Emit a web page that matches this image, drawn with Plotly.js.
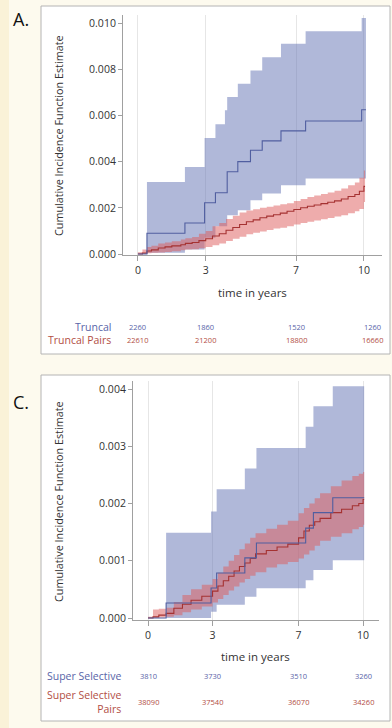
<!DOCTYPE html>
<html>
<head>
<meta charset="utf-8">
<script src="https://cdn.plot.ly/plotly-3.0.1.min.js"></script>
<style>
html,body{margin:0;padding:0;background:#fdfaee;}
#chart{width:392px;height:728px;}
</style>
</head>
<body>
<div id="chart"></div>
<script>
// ---------- Panel A: Truncal ----------
var tA_truncal   = [0, 0.4, 2.08, 2.95, 3.43, 3.85, 3.95, 4.42, 4.98, 5.5, 6.33, 7.42, 9.9, 10.09];
var estA_truncal = [0, 0.0009, 0.00134, 0.00222, 0.00265, 0.00265, 0.00356, 0.0040, 0.00449, 0.0049, 0.00533, 0.00576, 0.00625, 0.00625];
var loA_truncal  = [0, 0.00005, 0.0002, 0.0007, 0.0012, 0.0012, 0.00168, 0.0019, 0.00233, 0.00262, 0.00298, 0.00327, 0.00327, 0.00327];
var upA_truncal  = [0, 0.00312, 0.00377, 0.00502, 0.00562, 0.00622, 0.0068, 0.00737, 0.00795, 0.00852, 0.0091, 0.00965, 0.01022, 0.01022];

// ---------- Panel A: Truncal Pairs ----------
var tA_pairs   = [0, 0.2, 0.4, 0.6, 0.9, 1.2, 1.5, 1.9, 2.1, 2.4, 2.7, 3.0, 3.3, 3.6, 3.9, 4.2, 4.5, 4.8, 5.1, 5.4, 5.7, 6.0, 6.3, 6.6, 6.9, 7.2, 7.5, 7.8, 8.1, 8.4, 8.7, 9.0, 9.3, 9.6, 9.8, 10.0, 10.05];
var estA_pairs = [0, 0.00004, 0.00013, 0.00018, 0.00026, 0.00031, 0.00035, 0.0004, 0.00046, 0.0005, 0.00058, 0.00066, 0.00078, 0.00088, 0.00103, 0.00115, 0.00128, 0.0014, 0.00148, 0.00157, 0.00164, 0.0017, 0.00177, 0.00185, 0.00193, 0.002, 0.00207, 0.00212, 0.00218, 0.00224, 0.0023, 0.00238, 0.00249, 0.00258, 0.00272, 0.00293, 0.00293];
var loA_pairs  = [0, 0.00001, 0.00003, 0.00005, 0.00007, 0.00009, 0.00012, 0.00016, 0.00019, 0.00021, 0.00025, 0.0003, 0.00038, 0.00046, 0.00056, 0.00066, 0.00075, 0.00086, 0.00092, 0.00098, 0.00104, 0.0011, 0.00114, 0.0012, 0.00128, 0.00134, 0.0014, 0.00145, 0.0015, 0.00156, 0.00162, 0.00168, 0.00176, 0.00185, 0.00195, 0.00225, 0.00225];
var upA_pairs  = [0.00008, 0.0002, 0.0003, 0.00036, 0.00045, 0.0005, 0.00055, 0.00063, 0.00068, 0.00074, 0.00088, 0.001, 0.0012, 0.00134, 0.00152, 0.00166, 0.0018, 0.00188, 0.00194, 0.002, 0.00205, 0.0021, 0.00215, 0.0022, 0.0023, 0.00238, 0.00247, 0.00253, 0.0026, 0.00266, 0.00274, 0.00284, 0.00298, 0.0031, 0.0033, 0.00362, 0.00362];

// ---------- Panel C: Super Selective ----------
var tC_ss   = [0, 0.84, 2.93, 3.19, 4.5, 5.04, 7.33, 7.69, 8.59, 10.05];
var estC_ss = [0, 0.000262, 0.000525, 0.000787, 0.00105, 0.00131, 0.00157, 0.00184, 0.0021, 0.0021];
var loC_ss  = [0, 0, 0.00011, 0.00023, 0.00037, 0.00052, 0.00066, 0.00084, 0.00101, 0.00101];
var upC_ss  = [0, 0.00149, 0.00186, 0.00225, 0.00261, 0.00297, 0.00334, 0.0037, 0.00405, 0.00405];

// ---------- Panel C: Super Selective Pairs ----------
var tC_ssp   = [0, 0.23, 0.5, 0.84, 1.2, 1.6, 2.0, 2.5, 3.0, 3.25, 3.5, 3.75, 4.0, 4.25, 4.5, 4.75, 5.0, 5.5, 6.0, 6.5, 7.0, 7.25, 7.5, 7.75, 8.0, 8.5, 9.0, 9.5, 9.8, 10.0, 10.05];
var estC_ssp = [0, 0.00002, 0.00005, 0.00008, 0.00017, 0.00024, 0.00031, 0.00038, 0.00047, 0.00056, 0.00065, 0.00073, 0.00082, 0.0009, 0.00096, 0.00104, 0.00112, 0.00118, 0.00124, 0.00129, 0.0014, 0.00152, 0.00162, 0.00168, 0.00174, 0.00184, 0.0019, 0.00196, 0.002, 0.00207, 0.00207];
var loC_ssp  = [0, 0, 0.00001, 0.00002, 0.00005, 0.0001, 0.00015, 0.0002, 0.00027, 0.00033, 0.0004, 0.00048, 0.00055, 0.00062, 0.00068, 0.00074, 0.0008, 0.00088, 0.00094, 0.00098, 0.00104, 0.00111, 0.00118, 0.00126, 0.00135, 0.00142, 0.00148, 0.00155, 0.00159, 0.00163, 0.00163];
var upC_ssp  = [0.00002, 0.00015, 0.00016, 0.00018, 0.00028, 0.0004, 0.0005, 0.00058, 0.00068, 0.00079, 0.0009, 0.001, 0.0011, 0.0012, 0.0013, 0.0014, 0.00148, 0.00156, 0.00163, 0.0017, 0.00183, 0.00192, 0.002, 0.00209, 0.00218, 0.0023, 0.0024, 0.00248, 0.00252, 0.00255, 0.00255];

// ---------- Risk tables ----------
var riskTimes = [0, 3, 7, 10];
var riskA_truncal = [2260, 1860, 1520, 1260];
var riskA_pairs   = [22610, 21200, 18800, 16660];
var riskC_ss      = [3810, 3730, 3510, 3260];
var riskC_ssp     = [38090, 37540, 36070, 34260];

// ---------- styling ----------
var W = 392, H = 728;
function px(x){ return x / W; }
function py(y){ return 1 - y / H; }
var FONT = 'Open Sans, Noto Sans, sans-serif';
var blueFill = 'rgba(104,118,182,0.52)';
var redFill  = 'rgba(222,90,90,0.5)';
var blueLine = 'rgb(80,94,160)';
var redLine  = 'rgb(165,50,50)';
var blueText = 'rgb(88,100,168)';
var redText  = 'rgb(178,78,68)';

function band(t, lo, up, fill, xa, ya){
  return [
    {x: t, y: lo, type: 'scatter', mode: 'lines', line: {width: 0, shape: 'hv'}, hoverinfo: 'skip', showlegend: false, xaxis: xa, yaxis: ya},
    {x: t, y: up, type: 'scatter', mode: 'lines', line: {width: 0, shape: 'hv'}, fill: 'tonexty', fillcolor: fill, hoverinfo: 'skip', showlegend: false, xaxis: xa, yaxis: ya}
  ];
}
function est(t, y, color, xa, ya){
  return {x: t, y: y, type: 'scatter', mode: 'lines', line: {width: 1.1, shape: 'hv', color: color}, showlegend: false, xaxis: xa, yaxis: ya};
}

var data = [].concat(
  band(tA_truncal, loA_truncal, upA_truncal, blueFill, 'x', 'y'),
  band(tA_pairs, loA_pairs, upA_pairs, redFill, 'x', 'y'),
  [est(tA_pairs, estA_pairs, redLine, 'x', 'y'), est(tA_truncal, estA_truncal, blueLine, 'x', 'y')],
  band(tC_ss, loC_ss, upC_ss, blueFill, 'x2', 'y2'),
  band(tC_ssp, loC_ssp, upC_ssp, redFill, 'x2', 'y2'),
  [est(tC_ssp, estC_ssp, redLine, 'x2', 'y2'), est(tC_ss, estC_ss, blueLine, 'x2', 'y2')]
);

function xAxis(domain, range, anchor){
  return {domain: domain, range: range, anchor: anchor, tickvals: riskTimes, ticktext: riskTimes.map(String),
    showgrid: true, gridcolor: '#e6e6e6', gridwidth: 1, zeroline: false,
    showline: true, linecolor: '#a0a0a0', linewidth: 1, ticks: 'outside', ticklen: 5, tickcolor: '#a0a0a0',
    tickfont: {family: FONT, size: 10.5, color: '#333'}, fixedrange: true};
}
function yAxis(domain, range, anchor, tickvals){
  return {domain: domain, range: range, anchor: anchor, tickvals: tickvals, tickformat: '.3f',
    showgrid: false, zeroline: false,
    showline: true, linecolor: '#a0a0a0', linewidth: 1, ticks: 'outside', ticklen: 4, tickcolor: '#a0a0a0',
    tickfont: {family: FONT, size: 10.5, color: '#333'}, fixedrange: true};
}

var annotations = [];
function txt(x, y, text, opts){
  var a = Object.assign({xref: 'paper', yref: 'paper', x: px(x), y: py(y), text: text, showarrow: false,
    xanchor: 'center', yanchor: 'middle', font: {family: FONT, size: 10, color: '#333'}}, opts || {});
  annotations.push(a);
}
txt(11, 19, 'A.', {xanchor: 'left', font: {family: FONT, size: 18, color: '#111'}});
txt(11, 402, 'C.', {xanchor: 'left', font: {family: FONT, size: 18, color: '#111'}});
txt(58, 136, 'Cumulative Incidence Function Estimate', {textangle: -90, font: {family: FONT, size: 10.8, color: '#333'}});
txt(58, 502, 'Cumulative Incidence Function Estimate', {textangle: -90, font: {family: FONT, size: 10.8, color: '#333'}});
txt(252, 292, 'time in years', {font: {family: FONT, size: 11.5, color: '#333'}});
txt(256, 656, 'time in years', {font: {family: FONT, size: 11.5, color: '#333'}});
txt(113, 327, 'Truncal', {xanchor: 'right', font: {family: FONT, size: 10.5, color: blueText}});
txt(113, 340, 'Truncal Pairs', {xanchor: 'right', font: {family: FONT, size: 10.5, color: redText}});
txt(123, 676, 'Super Selective', {xanchor: 'right', font: {family: FONT, size: 10.5, color: blueText}});
txt(123, 702, 'Super Selective<br>Pairs', {xanchor: 'right', align: 'right', font: {family: FONT, size: 10.5, color: redText}});

function riskRow(vals, xref, y, color, lastShift){
  vals.forEach(function(v, i){
    annotations.push({xref: xref, yref: 'paper', x: riskTimes[i], y: py(y), text: String(v), showarrow: false,
      xanchor: 'center', yanchor: 'middle', xshift: (i === vals.length - 1 ? lastShift : 0),
      font: {family: FONT, size: 7.5, color: color}});
  });
}
riskRow(riskA_truncal, 'x', 327, blueText, 9);
riskRow(riskA_pairs, 'x', 340, redText, 9);
riskRow(riskC_ss, 'x2', 676, blueText, 0);
riskRow(riskC_ssp, 'x2', 702, redText, 0);

var shapes = [
  {type: 'rect', xref: 'paper', yref: 'paper', x0: 0, x1: px(9), y0: 0, y1: 1, fillcolor: '#faf2d8', line: {width: 0}, layer: 'below'},
  {type: 'rect', xref: 'paper', yref: 'paper', x0: px(41), x1: px(390), y0: py(354), y1: py(6), fillcolor: '#ffffff', line: {color: '#b4b4b4', width: 1}, layer: 'below'},
  {type: 'rect', xref: 'paper', yref: 'paper', x0: px(41), x1: px(390), y0: py(721), y1: py(375), fillcolor: '#ffffff', line: {color: '#b4b4b4', width: 1}, layer: 'below'}
];

var layout = {
  width: W, height: H,
  margin: {l: 0, r: 0, t: 0, b: 0},
  paper_bgcolor: '#fdfaee',
  plot_bgcolor: 'rgba(0,0,0,0)',
  showlegend: false,
  xaxis:  xAxis([px(123), px(382)], [-0.66, 10.80], 'y'),
  yaxis:  yAxis([py(255), py(15)], [-0.000043, 0.01035], 'x', [0, 0.002, 0.004, 0.006, 0.008, 0.010]),
  xaxis2: xAxis([px(133), px(379)], [-0.70, 10.74], 'y2'),
  yaxis2: yAxis([py(620), py(381)], [-0.000035, 0.00414], 'x2', [0, 0.001, 0.002, 0.003, 0.004]),
  shapes: shapes,
  annotations: annotations
};

Plotly.newPlot('chart', data, layout, {staticPlot: true, displayModeBar: false});
</script>
</body>
</html>
